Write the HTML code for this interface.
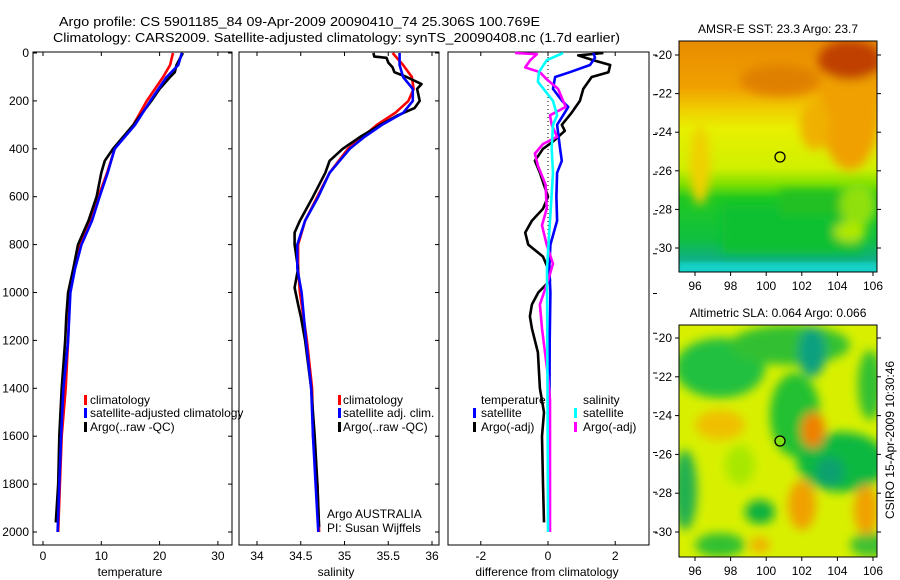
<!DOCTYPE html>
<html><head><meta charset="utf-8"><style>
html,body{margin:0;padding:0;background:#fff;}
svg{display:block;font-family:"Liberation Sans",sans-serif;}
</style></head><body>
<svg id="fig" width="900" height="580" viewBox="0 0 900 580" xmlns="http://www.w3.org/2000/svg">
<defs>
<filter id="blur6"><feGaussianBlur stdDeviation="5"/></filter>
<filter id="blur4"><feGaussianBlur stdDeviation="3"/></filter>
<clipPath id="clipTop"><rect x="679" y="41" width="198" height="231"/></clipPath>
<clipPath id="clipBot"><rect x="679" y="325" width="198" height="232"/></clipPath>
<linearGradient id="sstGrad" x1="0" y1="0" x2="0" y2="1">
<stop offset="0" stop-color="#e88c00"/><stop offset="0.2" stop-color="#f0a000"/>
<stop offset="0.3" stop-color="#f0d000"/><stop offset="0.38" stop-color="#e8f000"/>
<stop offset="0.55" stop-color="#d0f000"/><stop offset="0.62" stop-color="#80e000"/>
<stop offset="0.68" stop-color="#20c820"/><stop offset="0.86" stop-color="#10c040"/>
<stop offset="0.94" stop-color="#10b080"/><stop offset="1" stop-color="#10d8d0"/>
</linearGradient>
</defs>
<g font-size="13" fill="#000">
<text x="59" y="26" textLength="481" lengthAdjust="spacingAndGlyphs">Argo profile: CS 5901185_84 09-Apr-2009 20090410_74 25.306S 100.769E</text>
<text x="53" y="42" textLength="567" lengthAdjust="spacingAndGlyphs">Climatology: CARS2009. Satellite-adjusted climatology: synTS_20090408.nc (1.7d earlier)</text>
</g>
<g id="plots"></g>
<g id="maps">
<g clip-path="url(#clipTop)">
<rect x="679" y="41" width="198" height="231" fill="url(#sstGrad)"/>
<g filter="url(#blur6)">
<ellipse cx="850" cy="110" rx="30" ry="60" fill="#f0a000"/>
<ellipse cx="815" cy="125" rx="15" ry="25" fill="#f0b000"/>
<ellipse cx="850" cy="60" rx="32" ry="20" fill="#c04000"/>
<ellipse cx="780" cy="80" rx="40" ry="16" fill="#e08000"/>
<ellipse cx="700" cy="165" rx="10" ry="40" fill="#f0d000"/>
<rect x="722" y="205" width="140" height="48" fill="#10c030"/>
<rect x="780" y="190" width="65" height="25" fill="#20c020"/>
<ellipse cx="858" cy="205" rx="18" ry="22" fill="#90e010"/>
<ellipse cx="850" cy="232" rx="16" ry="10" fill="#b0e800"/>
</g>
<rect x="679" y="263" width="198" height="9" fill="#18d0c8" filter="url(#blur4)"/>
</g>
<g clip-path="url(#clipBot)">
<rect x="679" y="325" width="198" height="232" fill="#d8f000"/>
<g filter="url(#blur6)">
<ellipse cx="720" cy="368" rx="45" ry="30" fill="#20c040"/>
<ellipse cx="790" cy="345" rx="60" ry="20" fill="#30c030"/>
<ellipse cx="795" cy="415" rx="25" ry="42" fill="#20c030"/>
<ellipse cx="812" cy="352" rx="14" ry="25" fill="#10a080"/>
<ellipse cx="870" cy="385" rx="12" ry="35" fill="#30c030"/>
<ellipse cx="842" cy="462" rx="45" ry="30" fill="#10b840"/>
<ellipse cx="830" cy="472" rx="14" ry="15" fill="#10a070"/>
<ellipse cx="685" cy="490" rx="12" ry="40" fill="#20b050"/>
<ellipse cx="760" cy="512" rx="15" ry="12" fill="#10b040"/>
<ellipse cx="720" cy="545" rx="25" ry="12" fill="#30c030"/>
<ellipse cx="870" cy="545" rx="20" ry="12" fill="#40c030"/>
<ellipse cx="740" cy="465" rx="15" ry="20" fill="#a8e800"/>
<ellipse cx="720" cy="425" rx="25" ry="15" fill="#f0c000"/>
<ellipse cx="813" cy="430" rx="12" ry="18" fill="#f08000"/>
<ellipse cx="802" cy="505" rx="14" ry="25" fill="#f0a000"/>
<ellipse cx="866" cy="510" rx="12" ry="25" fill="#f0a000"/>
<ellipse cx="760" cy="545" rx="10" ry="8" fill="#f0b000"/>
</g>
</g>
<rect x="679" y="41" width="198" height="231" fill="none" stroke="#000"/>
<rect x="679" y="325" width="198" height="232" fill="none" stroke="#000"/>
<circle cx="780" cy="157" r="5" fill="none" stroke="#000" stroke-width="1.3"/>
<circle cx="780" cy="441" r="5" fill="#80e010" stroke="#000" stroke-width="1.3"/>
<text x="778" y="33" font-size="12" text-anchor="middle">AMSR-E SST: 23.3 Argo: 23.7</text>
<text x="778" y="317" font-size="12" text-anchor="middle">Altimetric SLA: 0.064 Argo: 0.066</text>
<text transform="translate(894,440) rotate(-90)" font-size="12" text-anchor="middle">CSIRO 15-Apr-2009 10:30:46</text>
</g>
</svg>
<script>
// ---- data ----
const tempDepth = [0,50,100,200,300,400,500,600,700,800,900,1000,1200,1400,1600,1800,2000];
const tempClim = [22.3,21.8,20.6,17.8,15.5,12.3,11,9.5,8.1,6.3,5.3,4.6,4.3,3.9,3.2,2.9,2.6];
const tempSat = [23.8,23.2,21.2,18.4,15.8,12.3,11.1,9.7,8.4,6.6,5.5,4.7,4.3,3.5,3.1,2.8,2.5];
const argoTDepth = [0,50,80,100,150,200,300,400,450,500,600,700,800,900,1000,1100,1200,1400,1600,1800,1960];
const argoTemp = [24,22.9,22.6,21.8,20,18.6,15.5,12,10.6,10,9.2,7.8,6,5.2,4.3,4,3.8,3.2,2.8,2.6,2.2];
const salDepth = [0,50,100,150,200,250,300,350,400,500,600,700,800,900,1000,1200,1400,1600,1800,2000];
const salClim = [35.55,35.67,35.77,35.79,35.73,35.58,35.37,35.21,35.04,34.83,34.69,34.55,34.47,34.47,34.49,34.57,34.63,34.64,34.69,34.71];
const salSat = [35.63,35.63,35.67,35.78,35.78,35.67,35.43,35.23,35.06,34.83,34.7,34.55,34.46,34.46,34.51,34.56,34.62,34.64,34.67,34.7];
const argoSDepth = [0,15,20,40,60,80,100,130,150,200,230,260,300,350,400,450,500,600,700,750,800,900,980,1050,1100,1200,1400,1600,1800,1980];
const argoSal = [35.33,35.34,35.48,35.5,35.55,35.57,35.71,35.88,35.83,35.86,35.8,35.61,35.41,35.18,34.98,34.83,34.78,34.64,34.49,34.43,34.43,34.47,34.43,34.47,34.5,34.55,34.62,34.66,34.69,34.71];
const dTSatDepth = [0,20,50,80,100,150,200,225,260,300,400,450,500,600,700,800,900,1000,1200,1600,2000];
const dTSat = [1.35,1.4,1.25,0.65,0.21,0.15,0.42,0.6,0.45,0.27,0.36,0.41,0.27,0.25,0.27,0.07,0.04,0.07,0.05,0.04,0.03];
const dTArgoDepth = [0,10,30,50,80,100,150,200,250,300,325,370,400,450,500,600,650,700,750,800,850,900,950,1000,1050,1100,1150,1250,1400,1500,1600,1800,1960];
const dTArgo = [1.65,0.9,1.35,1.85,1.8,1.3,1.05,0.95,0.7,0.41,0.5,0.15,-0.15,-0.39,-0.24,0,-0.15,-0.48,-0.68,-0.59,-0.15,0,0.06,-0.29,-0.48,-0.54,-0.48,-0.3,-0.24,-0.12,-0.18,-0.15,-0.12];
const dSArgoDepth = [0,5,30,60,80,110,150,200,225,260,300,350,380,420,470,550,650,720,800,880,950,1050,1150,1250,1350,1450,1700,2000];
const dSArgo = [-0.98,-0.33,-0.53,-0.68,-0.24,-0.04,0.3,0.45,0.53,0.06,0.11,0.27,-0.15,-0.39,-0.3,-0.07,-0.04,-0.18,-0.04,0.15,0,-0.24,-0.18,-0.09,0,0.06,0.06,0.06];
const dSSatDepth = [0,30,80,120,200,260,300,400,500,700,900,1200,1600,2000];
const dSSat = [0.45,-0.04,-0.27,-0.3,0.15,0.27,0.15,0.11,0.15,0.06,-0.03,-0.02,-0.01,0];
const depthTicks = [0,200,400,600,800,1000,1200,1400,1600,1800,2000];
const tempTicks = [0,10,20,30];
const salTicks = [34,34.5,35,35.5,36];
const diffTicks = [-2,0,2];
const lonTicks = [96,98,100,102,104,106];
const latTicks = [-20,-22,-24,-26,-28,-30];

// ---- scales ----
const yD = d => 53 + d*0.2395;
const xT = t => 43 + t*5.83;
const xS = s => 257 + (s-34)*87.5;
const xDf = v => 548 + v*33.6;
const lonX = l => 695 + (l-96)*17.8;
const latYTop = l => 55 + (-20-l)*19.3;
const latYBot = l => 338 + (-20-l)*19.4;

const NS = 'http://www.w3.org/2000/svg';
const root = document.getElementById('plots');
function mk(tag, attrs, parent){
  const e = document.createElementNS(NS, tag);
  for (const k in attrs) e.setAttribute(k, attrs[k]);
  (parent||root).appendChild(e);
  return e;
}
function txt(x,y,s,anchor,size,parent){
  const t = mk('text',{x:x,y:y,'text-anchor':anchor||'start','font-size':size||12},parent);
  t.textContent = s;
  return t;
}
function series(xs, ds, xf, color, name){
  let p = '';
  for (let i=0;i<xs.length;i++) p += (i?'L':'M') + xf(xs[i]).toFixed(1) + ',' + yD(ds[i]).toFixed(1);
  const e = mk('path',{d:p,fill:'none',stroke:color,'stroke-width':2.6,'stroke-linejoin':'round'});
  
  
}

const panels = [[33,232],[239,439],[448,649]];
panels.forEach((p,i)=>{
  const r = mk('rect',{x:p[0],y:52,width:p[1]-p[0],height:493,fill:'none',stroke:'#000'});
  
  
});
depthTicks.forEach(d=>{
  const y = yD(d);
  mk('line',{x1:33,y1:y,x2:37,y2:y,stroke:'#000'});
  mk('line',{x1:228,y1:y,x2:232,y2:y,stroke:'#000'});
  mk('line',{x1:435,y1:y,x2:439,y2:y,stroke:'#000'});
  const t = txt(29,y+4,String(d),'end',12);
  
  
});
for (let i=0;i<13;i++){ const y=55+i*39.75; mk('line',{x1:653,y1:y,x2:657,y2:y,stroke:'#000'}); }
function xticks(vals, f, fmt){
  vals.forEach(v=>{
    const x = f(v);
    mk('line',{x1:x,y1:52,x2:x,y2:56,stroke:'#000'});
    mk('line',{x1:x,y1:541,x2:x,y2:545,stroke:'#000'});
    const t = txt(x,560,fmt(v),'middle',12);
    
    
  });
}
xticks(tempTicks, xT, v=>String(v));
xticks(salTicks, xS, v=>String(v));
xticks(diffTicks, xDf, v=>String(v));
let t;
t = txt(130,576,'temperature','middle',12);


t = txt(336,576,'salinity','middle',12);


t = txt(547,576,'difference from climatology','middle',12);



const z = mk('line',{x1:xDf(0),y1:53,x2:xDf(0),y2:533,stroke:'#000','stroke-dasharray':'1,3'});



series(tempClim, tempDepth, xT, '#ff0000', 'temp-climatology-line');
series(argoTemp, argoTDepth, xT, '#000000', 'temp-argo-line');
series(tempSat, tempDepth, xT, '#0000ff', 'temp-satellite-line');
series(salClim, salDepth, xS, '#ff0000', 'sal-climatology-line');
series(argoSal, argoSDepth, xS, '#000000', 'sal-argo-line');
series(salSat, salDepth, xS, '#0000ff', 'sal-satellite-line');
series(dTArgo, dTArgoDepth, xDf, '#000000', 'diff-temp-argo-line');
series(dTSat, dTSatDepth, xDf, '#0000ff', 'diff-temp-satellite-line');
series(dSArgo, dSArgoDepth, xDf, '#ff00ff', 'diff-sal-argo-line');
series(dSSat, dSSatDepth, xDf, '#00ffff', 'diff-sal-satellite-line');

function legendEntry(mx, tx, y, color, label){
  const g = mk('g',{});
  
  
  if (color) mk('rect',{x:mx,y:y-5,width:3,height:10,fill:color},g);
  txt(tx,y+4,label,'start',12,g);
}
legendEntry(84,90,400,'#ff0000','climatology');
legendEntry(84,90,413,'#0000ff','satellite-adjusted climatology');
legendEntry(84,90,427,'#000000','Argo(..raw -QC)');
legendEntry(338,343,400,'#ff0000','climatology');
legendEntry(338,343,413,'#0000ff','satellite adj. clim.');
legendEntry(338,343,427,'#000000','Argo(..raw -QC)');
legendEntry(0,481,400,null,'temperature');
legendEntry(473,481,413,'#0000ff','satellite');
legendEntry(473,481,427,'#000000','Argo(-adj)');
legendEntry(0,583,400,null,'salinity');
legendEntry(574,583,413,'#00ffff','satellite');
legendEntry(574,583,427,'#ff00ff','Argo(-adj)');
t = txt(327,518,'Argo AUSTRALIA','start',12);


t = txt(327,532,'PI: Susan Wijffels','start',12);



const maps = document.getElementById('maps');
[[272,latYTop,41],[557,latYBot,325]].forEach(m=>{
  lonTicks.forEach(l=>{
    const x = lonX(l);
    mk('line',{x1:x,y1:m[0],x2:x,y2:m[0]+4,stroke:'#000'},maps);
    const lt = txt(x,m[0]+18,String(l),'middle',12,maps);
    
    
  });
  latTicks.forEach(l=>{
    const y = m[1](l);
    mk('line',{x1:675,y1:y,x2:679,y2:y,stroke:'#000'},maps);
    mk('line',{x1:877,y1:y,x2:881,y2:y,stroke:'#000'},maps);
    const lt = txt(672,y+4,String(l),'end',12,maps);
    
    
  });
});
</script>
</body></html>
